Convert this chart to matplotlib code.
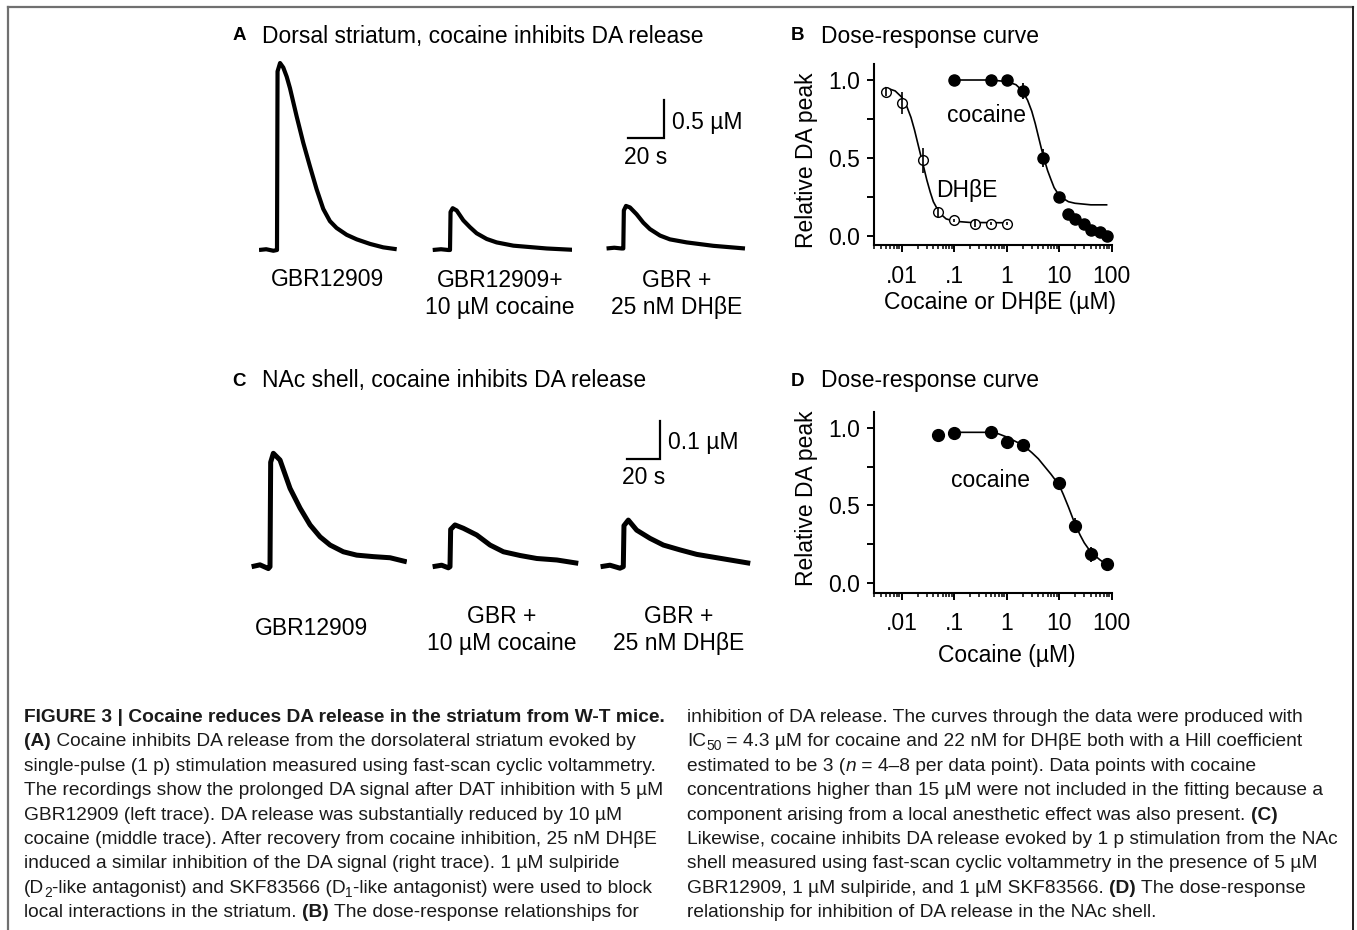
import numpy as np
import matplotlib
matplotlib.use("Agg")
import matplotlib.pyplot as plt
from matplotlib import font_manager
from matplotlib.lines import Line2D
from matplotlib.ticker import LogLocator, NullFormatter

# ---------------- data ----------------
# panel A traces (time from stimulus in s, DA in uM)
a1_t = [-10, -6, -2, 0, 0.3, 1.7, 3.5, 5.4, 7.2, 9.0, 10.9, 14.6, 18.3, 22.0, 25.7, 29.4, 33.1, 38.7, 44.3, 51.7, 59.0, 66.5]
a1_c = [0.0, 0.01, -0.01, 0.0, 2.35, 2.46, 2.40, 2.28, 2.13, 1.95, 1.76, 1.41, 1.10, 0.80, 0.54, 0.38, 0.29, 0.20, 0.14, 0.08, 0.035, 0.01]
a2_t = [-9.6, -5, -1, 0, 0.3, 1.5, 3.7, 7.4, 11.1, 14.8, 20.4, 25.9, 35.2, 53.7, 70.4]
a2_c = [0.0, 0.01, 0.0, 0.0, 0.50, 0.55, 0.52, 0.39, 0.30, 0.22, 0.145, 0.10, 0.057, 0.02, 0.0]
a3_t = [-9.3, -5, -1, 0, 0.3, 1.5, 3.7, 7.4, 11.1, 14.8, 20.4, 25.9, 35.2, 50.0, 67.6]
a3_c = [0.02, 0.03, 0.02, 0.02, 0.52, 0.58, 0.56, 0.47, 0.36, 0.275, 0.19, 0.14, 0.10, 0.055, 0.02]
a_labels = ["GBR12909", "GBR12909+\n10 µM cocaine", "GBR +\n25 nM DHβE"]
a_bar_s, a_bar_um = 20, 0.5

# panel C traces
c1_t = [-11, -6, -1, 0, 0.4, 2.0, 6.0, 12, 18, 24, 30, 36, 43.9, 51.9, 61.9, 71.9, 81.9]
c1_c = [0.0, 0.005, -0.005, 0.0, 0.28, 0.304, 0.286, 0.21, 0.157, 0.112, 0.080, 0.058, 0.040, 0.031, 0.027, 0.024, 0.013]
c2_t = [-10.4, -5, -1, 0, 0.4, 3, 8, 16, 24, 32, 42, 52, 64, 76.8]
c2_c = [0.0, 0.004, -0.003, 0.0, 0.10, 0.112, 0.103, 0.085, 0.058, 0.040, 0.030, 0.022, 0.018, 0.009]
c3_t = [-13.6, -8, -2, 0, 0.4, 3, 8, 16, 24, 34, 44, 56, 68, 76]
c3_c = [0.0, 0.004, -0.004, 0.0, 0.11, 0.125, 0.098, 0.076, 0.058, 0.045, 0.033, 0.024, 0.015, 0.009]
c_labels = ["GBR12909", "GBR +\n10 µM cocaine", "GBR +\n25 nM DHβE"]
c_bar_s, c_bar_um = 20, 0.1

# panel B dose-response (uM, relative peak)
b_coc_x = [0.1, 0.5, 1, 2, 5, 10, 15, 20, 30, 40, 60, 80]
b_coc_y = [1.0, 1.0, 1.0, 0.93, 0.50, 0.25, 0.14, 0.11, 0.075, 0.04, 0.026, 0.0]
b_coc_e = [0.01, 0.02, 0.03, 0.05, 0.06, 0.02, 0.01, 0.01, 0.01, 0.01, 0.01, 0.01]
b_coc_fit_x = [0.1, 0.5, 1, 1.5, 2, 2.5, 3, 3.5, 4, 4.5, 5, 6, 7, 8, 10, 12, 15, 20, 40, 80]
b_coc_fit_y = [1.0, 1.0, 0.99, 0.97, 0.93, 0.87, 0.80, 0.72, 0.64, 0.57, 0.51, 0.42, 0.36, 0.31, 0.26, 0.24, 0.22, 0.21, 0.20, 0.20]
b_dh_x = [0.005, 0.01, 0.025, 0.05, 0.1, 0.25, 0.5, 1.0]
b_dh_y = [0.925, 0.85, 0.486, 0.154, 0.10, 0.08, 0.08, 0.08]
b_dh_e = [0.03, 0.07, 0.08, 0.03, 0.01, 0.02, 0.01, 0.01]
b_dh_fit_x = [0.005, 0.0075, 0.01, 0.0125, 0.015, 0.0175, 0.02, 0.0225, 0.025, 0.03, 0.035, 0.04, 0.05, 0.06, 0.07, 0.1, 0.2, 1.0]
b_dh_fit_y = [0.95, 0.93, 0.89, 0.83, 0.76, 0.68, 0.60, 0.53, 0.47, 0.36, 0.28, 0.22, 0.16, 0.13, 0.11, 0.095, 0.087, 0.085]

# panel D dose-response (NAc shell)
d_coc_x = [0.05, 0.1, 0.5, 1, 2, 10, 20, 40, 80]
d_coc_y = [0.953, 0.964, 0.97, 0.906, 0.889, 0.642, 0.37, 0.186, 0.122]
d_coc_e = [0.01, 0.02, 0.03, 0.01, 0.01, 0.01, 0.05, 0.05, 0.02]
d_fit_x = [0.1, 0.5, 0.7, 1, 1.5, 2, 3, 4, 5, 7, 10, 12, 15, 20, 25, 30, 40, 60, 80]
d_fit_y = [0.97, 0.97, 0.96, 0.94, 0.91, 0.89, 0.84, 0.80, 0.76, 0.70, 0.63, 0.57, 0.49, 0.38, 0.31, 0.26, 0.20, 0.15, 0.12]

dose_ticks = [0.01, 0.1, 1, 10, 100]
dose_ticklabels = [".01", ".1", "1", "10", "100"]
rel_ticks = [0, 0.5, 1.0]
rel_ticklabels = ["0.0", "0.5", "1.0"]

caption_left = [
    [("FIGURE 3 | Cocaine reduces DA release in the striatum from W-T mice.", "b")],
    [("(A)", "b"), (" Cocaine inhibits DA release from the dorsolateral striatum evoked by", "n")],
    [("single-pulse (1 p) stimulation measured using fast-scan cyclic voltammetry.", "n")],
    [("The recordings show the prolonged DA signal after DAT inhibition with 5 µM", "n")],
    [("GBR12909 (left trace). DA release was substantially reduced by 10 µM", "n")],
    [("cocaine (middle trace). After recovery from cocaine inhibition, 25 nM DHβE", "n")],
    [("induced a similar inhibition of the DA signal (right trace). 1 µM sulpiride", "n")],
    [("(D", "n"), ("2", "sub"), ("-like antagonist) and SKF83566 (D", "n"), ("1", "sub"),
     ("-like antagonist) were used to block", "n")],
    [("local interactions in the striatum. ", "n"), ("(B)", "b"), (" The dose-response relationships for", "n")],
]
caption_right = [
    [("inhibition of DA release. The curves through the data were produced with", "n")],
    [("IC", "n"), ("50", "sub"), (" = 4.3 µM for cocaine and 22 nM for DHβE both with a Hill coefficient", "n")],
    [("estimated to be 3 (", "n"), ("n", "i"), (" = 4–8 per data point). Data points with cocaine", "n")],
    [("concentrations higher than 15 µM were not included in the fitting because a", "n")],
    [("component arising from a local anesthetic effect was also present. ", "n"), ("(C)", "b")],
    [("Likewise, cocaine inhibits DA release evoked by 1 p stimulation from the NAc", "n")],
    [("shell measured using fast-scan cyclic voltammetry in the presence of 5 µM", "n")],
    [("GBR12909, 1 µM sulpiride, and 1 µM SKF83566. ", "n"), ("(D)", "b"), (" The dose-response", "n")],
    [("relationship for inhibition of DA release in the NAc shell.", "n")],
]

# ---------------- layout ----------------
W, H = 1357, 930
plt.rcParams['font.family'] = ['Liberation Sans', 'DejaVu Sans']
FS = 16.5

fig = plt.figure(figsize=(W / 100, H / 100), dpi=100)
fig.patch.set_facecolor('white')


def rect(left, top, right, bottom):
    return [left / W, 1 - bottom / H, (right - left) / W, (bottom - top) / H]


def ftext(x, y, s, **kw):
    return fig.text(x / W, 1 - y / H, s, **kw)


# frame around the figure
fig.add_artist(Line2D([8 / W, 1353 / W], [1 - 7.5 / H, 1 - 7.5 / H], color='#707070', lw=1.6))
fig.add_artist(Line2D([8 / W, 8 / W], [1 - 7.5 / H, 0], color='#707070', lw=1.6))
fig.add_artist(Line2D([1353 / W, 1353 / W], [1 - 7.5 / H, 0], color='#202020', lw=1.4))

# panel titles
for letter, x0, y0, title in [("A", 239, 36, "Dorsal striatum, cocaine inhibits DA release"),
                              ("B", 798, 36, "Dose-response curve"),
                              ("C", 239, 381, "NAc shell, cocaine inhibits DA release"),
                              ("D", 798, 381, "Dose-response curve")]:
    ftext(x0, y0, letter, fontsize=13.5, fontweight='bold', ha='center', va='center')
    ftext(x0 + 23, y0, title, fontsize=FS, ha='left', va='center')


def trace_panel(traces, steps_x, base_y, px_s, px_um, xlim, ylim, labels, label_pos,
                bar_s, bar_um, bar_anchor, bar_label_um, bar_label_s, lw):
    axes = []
    for (t, c), sx in zip(traces, steps_x):
        left = sx + xlim[0] * px_s
        right = sx + xlim[1] * px_s
        bottom = base_y - ylim[0] * px_um
        top = base_y - ylim[1] * px_um
        ax = fig.add_axes(rect(left, top, right, bottom))
        ax.plot(t, c, color='black', lw=lw, solid_joinstyle='round', solid_capstyle='butt')
        ax.set_xlim(*xlim)
        ax.set_ylim(*ylim)
        ax.axis('off')
        axes.append(ax)
    ax = axes[-1]
    bx, by = bar_anchor
    ax.plot([bx, bx + bar_s, bx + bar_s], [by, by, by + bar_um], color='black', lw=1.6,
            clip_on=False, solid_joinstyle='miter')
    ax.text(bx + bar_s + 4.5, by + bar_um * 0.42, bar_label_um, fontsize=FS, ha='left', va='center')
    ax.text(bx + bar_s / 2, by - bar_um * 0.5, bar_label_s, fontsize=FS, ha='center', va='center')
    for lab, (x, y) in zip(labels, label_pos):
        ftext(x, y, lab, fontsize=FS, ha='center', va='center', linespacing=1.25)


trace_panel([(a1_t, a1_c), (a2_t, a2_c), (a3_t, a3_c)], [277, 450, 623.3], 250, 1.8, 76,
            (-10, 68), (-0.1, 2.55), a_labels, [(327, 280), (500, 294), (677, 294)],
            a_bar_s, a_bar_um, (2.5, 1.47), "0.5 µM", "20 s", 3.0)

trace_panel([(c1_t, c1_c), (c2_t, c2_c), (c3_t, c3_c)], [270, 450, 623.3], 566.7, 1.67, 373,
            (-14, 82), (-0.03, 0.42), c_labels, [(312, 628), (502, 630), (679, 630)],
            c_bar_s, c_bar_um, (2, 0.29), "0.1 µM", "20 s", 3.6)


def dose_axes(top, bottom):
    ax = fig.add_axes(rect(874.3, top, 1111.7, bottom))
    ax.set_xscale('log')
    ax.set_xlim(0.003, 100)
    ax.set_ylim(-0.06, 1.1)
    for s in ('top', 'right'):
        ax.spines[s].set_visible(False)
    for s in ('left', 'bottom'):
        ax.spines[s].set_linewidth(1.5)
    ax.set_xticks(dose_ticks, dose_ticklabels)
    ax.xaxis.set_minor_locator(LogLocator(base=10, subs=np.arange(2, 10), numticks=30))
    ax.xaxis.set_minor_formatter(NullFormatter())
    ax.set_yticks(rel_ticks, rel_ticklabels)
    ax.set_yticks([0.25, 0.75], minor=True)
    ax.tick_params(axis='both', which='major', direction='out', length=5, width=1.4,
                   labelsize=FS, colors='black')
    ax.tick_params(axis='x', which='major', pad=9)
    ax.tick_params(axis='y', which='major', pad=5)
    ax.tick_params(axis='x', which='minor', direction='out', length=3, width=1.1)
    ax.tick_params(axis='y', which='minor', direction='out', length=5, width=1.4)
    ax.patch.set_alpha(0)
    return ax


# panel B
axb = dose_axes(64.4, 245.4)
axb.plot(b_coc_fit_x, b_coc_fit_y, color='black', lw=1.2)
axb.plot(b_dh_fit_x, b_dh_fit_y, color='black', lw=1.2)
axb.errorbar(b_coc_x, b_coc_y, yerr=b_coc_e, fmt='o', color='black', ms=8, elinewidth=1.3,
             capsize=0, clip_on=False)
axb.plot(b_dh_x, b_dh_y, 'o', mfc='white', mec='black', mew=1.0, ms=7, zorder=3)
axb.errorbar(b_dh_x, b_dh_y, yerr=b_dh_e, fmt='none', ecolor='black', elinewidth=1.2,
             capsize=0, zorder=4)
ftext(987, 116, "cocaine", fontsize=FS, ha='center', va='center')
ftext(967, 190, "DHβE", fontsize=FS, ha='center', va='center')
ftext(806, 160, "Relative DA peak", fontsize=FS, ha='center', va='center', rotation=90)
ftext(1000, 303, "Cocaine or DHβE (µM)", fontsize=FS, ha='center', va='center')

# panel D
axd = dose_axes(412.1, 592.6)
axd.plot(d_fit_x, d_fit_y, color='black', lw=1.2)
axd.errorbar(d_coc_x, d_coc_y, yerr=d_coc_e, fmt='o', color='black', ms=8.5, elinewidth=1.3,
             capsize=0, clip_on=False)
ftext(990, 480, "cocaine", fontsize=FS, ha='center', va='center')
ftext(806, 498, "Relative DA peak", fontsize=FS, ha='center', va='center', rotation=90)
ftext(1007, 655, "Cocaine (µM)", fontsize=FS, ha='center', va='center')

# ---------------- caption ----------------
names = {f.name for f in font_manager.fontManager.ttflist}
cap_family = ['Liberation Sans Narrow', 'DejaVu Sans'] if 'Liberation Sans Narrow' in names \
    else ['Liberation Sans', 'DejaVu Sans']
renderer = fig.canvas.get_renderer()


def seg_props(style, size):
    kw = dict(fontsize=size, family=cap_family, color='#1a1a1a')
    if style == 'b':
        kw['fontweight'] = 'bold'
    if style == 'i':
        kw['fontstyle'] = 'italic'
    if style == 'sub':
        kw['fontsize'] = size * 0.72
    return kw


def seg_width(s, kw):
    t1 = fig.text(0, 0, "|" + s + "|", **kw)
    t2 = fig.text(0, 0, "||", **kw)
    w = t1.get_window_extent(renderer).width - t2.get_window_extent(renderer).width
    t1.remove()
    t2.remove()
    return w


def line_width(segs, size):
    return sum(seg_width(s, seg_props(st, size)) for s, st in segs)


# size the caption font so that a reference line spans the measured width
cap_size = 12.0 * 654 / line_width(caption_right[5], 12.0)


def draw_caption(lines, x0, y0, step):
    for i, segs in enumerate(lines):
        x = x0
        yb = y0 + i * step
        for s, st in segs:
            kw = seg_props(st, cap_size)
            dy = 4 if st == 'sub' else 0
            fig.text(x / W, 1 - (yb + dy) / H, s, va='baseline', ha='left', **kw)
            x += seg_width(s, kw)


draw_caption(caption_left, 24, 722, 24.4)
draw_caption(caption_right, 687, 722, 24.4)

fig.savefig("out.png", dpi=100)
